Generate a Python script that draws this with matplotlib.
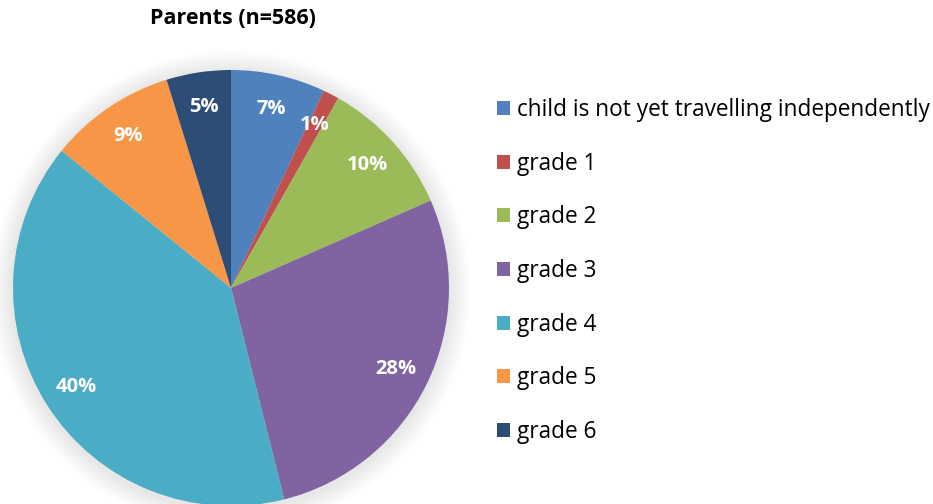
import matplotlib
matplotlib.use("Agg")
from matplotlib import pyplot as plt
from matplotlib.patches import Circle

plt.rcParams['font.family'] = ['Open Sans', 'DejaVu Sans']

title = 'Parents (n=586)'
labels = ['child is not yet travelling independently', 'grade 1', 'grade 2',
          'grade 3', 'grade 4', 'grade 5', 'grade 6']
counts = [41, 7, 60, 162, 233, 55, 28]
colors = ['#4F81BD', '#C0504D', '#9BBB59', '#8064A2', '#4BACC6', '#F79646', '#2C4D75']

fig = plt.figure(figsize = (9.33, 5.04), dpi = 100)
ax = fig.add_axes([13 / 933, -2 / 504, 436 / 933, 436 / 504], frameon = False)

# faint soft shadow around the pie
for i in range(8):
    ax.add_patch(Circle((0, -0.01), 1 + 0.012 * (i + 1), color = 'black', alpha = 0.012,
                        linewidth = 0, clip_on = False, zorder = 0))

wedges, texts, autotexts = ax.pie(counts, colors = colors, startangle = 90, counterclock = False,
                                  autopct = lambda p: f'{p:.0f}%', pctdistance = 0.84,
                                  radius = 1, wedgeprops = dict(linewidth = 0, zorder = 2))
for t in autotexts:
    t.set_color('white')
    t.set_fontsize(14.5)
    t.set_fontweight('bold')
    t.set_zorder(3)
ax.set_xlim(-1, 1)
ax.set_ylim(-1, 1)

fig.text(233 / 933, 1 - 19 / 504, title, ha = 'center', va = 'center', fontsize = 15.5, fontweight = 'bold')

fig.legend(wedges, labels, loc = 'upper left', bbox_to_anchor = (497 / 933, 1 - 98 / 504),
           frameon = False, fontsize = 16.3, handlelength = 0.57, handleheight = 0.57,
           handletextpad = 0.3, labelspacing = 1.31, borderpad = 0, borderaxespad = 0)

fig.savefig('out.png', dpi = 100)
